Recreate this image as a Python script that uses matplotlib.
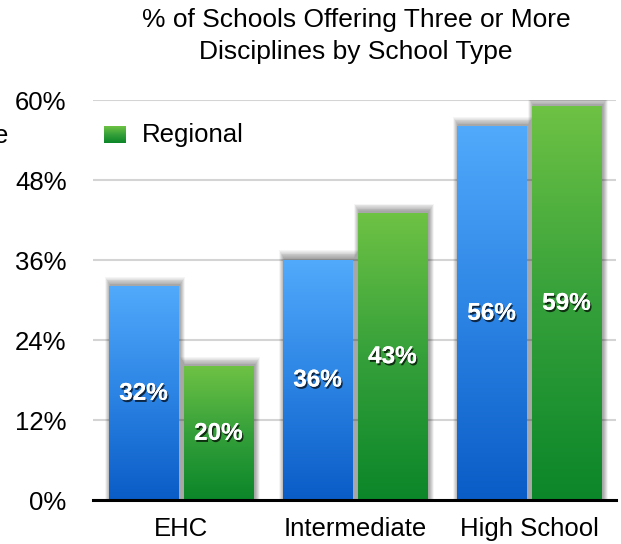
import numpy as np
import matplotlib.pyplot as plt
import matplotlib.patheffects as pe
from matplotlib.colors import LinearSegmentedColormap
from matplotlib.patches import Rectangle

categories = ["EHC", "Intermediate", "High School"]
ehc_values = [32, 36, 56]       # blue series (label cut off on the left)
regional_values = [20, 43, 59]  # green series
yticks = [0, 12, 24, 36, 48, 60]

plt.rcParams['font.family'] = ['Liberation Sans', 'DejaVu Sans']

blue_cmap = LinearSegmentedColormap.from_list("b", ["#0a5cc6", "#2c84e4", "#52aafc"])
green_cmap = LinearSegmentedColormap.from_list("g", ["#0b8629", "#35a03a", "#6ec244"])

fig = plt.figure(figsize=(6.21, 5.44), dpi=100)
ax = fig.add_axes([93 / 621, 1 - 500 / 544, 523 / 621, 400 / 544])

x = np.arange(len(categories))
width = 0.40
offset = 0.215
px_x = 1 / 174.0   # data units per pixel (x)
px_y = 60 / 400.0  # data units per pixel (y)

grad = np.linspace(1, 0, 256).reshape(-1, 1)


def draw_bar(xc, h, cmap):
    x0, x1 = xc - width / 2, xc + width / 2
    # soft drop shadow
    for k in range(1, 11):
        ax.add_patch(Rectangle((x0 - k * px_x * 0.5 + 1.5 * px_x, 0),
                               width + k * px_x * 1.0,
                               h + k * px_y * 0.8 + 1.5 * px_y,
                               facecolor="black", edgecolor="none",
                               alpha=0.04, zorder=2))
    ax.imshow(grad, extent=[x0, x1, 0, h], cmap=cmap, aspect="auto",
              vmin=0, vmax=1, zorder=3)
    ax.text(xc, h / 2, f"{h}%", ha="center", va="center", color="white",
            fontsize=17.5, fontweight="bold",
            family=["Liberation Sans Narrow", "Liberation Sans", "DejaVu Sans"],
            zorder=5,
            path_effects=[pe.withSimplePatchShadow(offset=(1, -1.5),
                                                   shadow_rgbFace="black",
                                                   alpha=0.7),
                          pe.Normal()])


for i in range(len(categories)):
    draw_bar(x[i] - offset, ehc_values[i], blue_cmap)
    draw_bar(x[i] + offset, regional_values[i], green_cmap)

ax.set_xticks(x)
ax.set_xticklabels(categories, fontsize=18.5)
ax.set_yticks(yticks)
ax.set_yticklabels([f"{v}%" for v in yticks], fontsize=18.5)
ax.tick_params(axis="both", length=0)
ax.tick_params(axis="x", pad=12)
ax.tick_params(axis="y", pad=19)

ax.grid(axis="y", color="#d4d4d4", linewidth=1.5, zorder=0)
ax.set_axisbelow(True)
for s in ["left", "right", "top"]:
    ax.spines[s].set_visible(False)
ax.spines["bottom"].set_linewidth(2.2)
ax.spines["bottom"].set_color("black")
ax.spines["bottom"].set_zorder(6)

# legend (green entry; the blue one is cut off at the left edge)
ax.imshow(grad, extent=[0.021, 0.063, 0.8925, 0.935], cmap=green_cmap,
          aspect="auto", transform=ax.transAxes, zorder=4)
ax.text(0.094, 0.913, "Regional", transform=ax.transAxes, fontsize=18.5,
        va="center", ha="left")
fig.text(8 / 621, 1 - 136 / 544, "e", fontsize=18.5, ha="right", va="center")

fig.text(356 / 621, 1 - 20 / 544, "% of Schools Offering Three or More",
         ha="center", va="center", fontsize=19)
fig.text(356 / 621, 1 - 52 / 544, "Disciplines by School Type",
         ha="center", va="center", fontsize=19)

ax.set_xlim(-0.505, 2.5)
ax.set_ylim(0, 60)

fig.savefig("out.png", dpi=100)
